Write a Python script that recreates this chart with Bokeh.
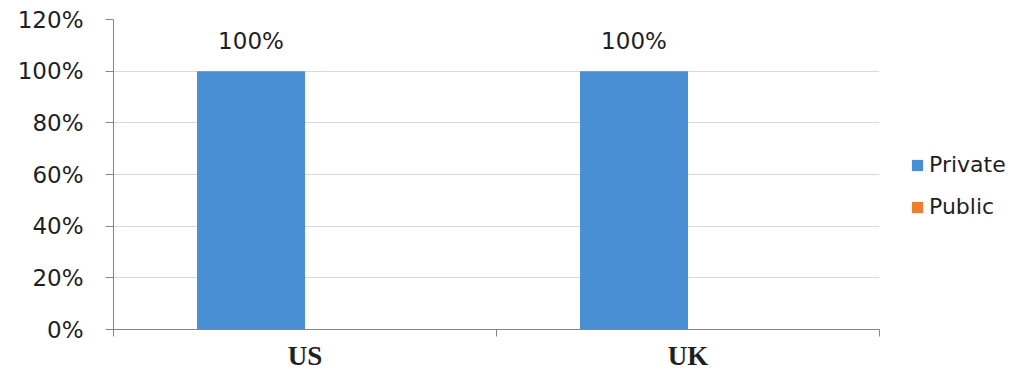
from bokeh.plotting import figure
from bokeh.models import (Range1d, FixedTicker, LinearAxis, Legend, LegendItem,
                          ColumnDataSource, PrintfTickFormatter, Grid)
from bokeh.transform import dodge
from bokeh.core.properties import value
from bokeh.embed import file_html
from bokeh.resources import INLINE
import numpy as np

categories = ["US", "UK"]
series = ["Private", "Public"]
private = [100, 100]
public = [0, 0]
y_ticks = [0, 20, 40, 60, 80, 100, 120]
data_labels = ["100%", "100%"]

colors = {"Private": "#4a8fd3", "Public": "#ed7d31"}
axis_color = "#868686"
text_color = "#1f1f1f"

n = len(categories)
centers = np.arange(n) + 0.5
bar_w = 0.282

p = figure(frame_width=766, frame_height=310, output_backend="svg", toolbar_location=None,
           x_range=Range1d(0, n), y_range=Range1d(0, 120),
           x_axis_type=None, y_axis_type=None,
           min_border_left=113, min_border_right=140, min_border_top=19, min_border_bottom=50)
p.outline_line_color = None
p.background_fill_color = "white"
p.border_fill_color = "white"

yaxis = LinearAxis(ticker=FixedTicker(ticks=y_ticks, minor_ticks=[]),
                   formatter=PrintfTickFormatter(format="%d%%"),
                   axis_line_color=axis_color, major_tick_line_color=axis_color,
                   major_tick_out=8, major_tick_in=0, minor_tick_line_color=None,
                   major_label_text_font="DejaVu Sans", major_label_text_font_size="23px",
                   major_label_text_color=text_color, major_label_standoff=22)
p.add_layout(yaxis, "left")

overrides = {float(c): cat for c, cat in zip(centers, categories)}
xaxis = LinearAxis(ticker=FixedTicker(ticks=[float(c) for c in centers],
                                      minor_ticks=list(range(n + 1))),
                   major_label_overrides=overrides,
                   axis_line_color=axis_color, major_tick_line_color=None,
                   major_tick_out=0, major_tick_in=0,
                   minor_tick_line_color=axis_color, minor_tick_out=7, minor_tick_in=0,
                   major_label_text_font="Liberation Serif", major_label_text_font_style="bold",
                   major_label_text_font_size="27px", major_label_text_color=text_color,
                   major_label_standoff=4)
p.add_layout(xaxis, "below")

p.add_layout(Grid(dimension=1, ticker=FixedTicker(ticks=y_ticks[1:]),
                  grid_line_color="#d2dae5", grid_line_width=1))

src = ColumnDataSource(dict(x=centers, cat=categories, private=private,
                            public=public, lbl=data_labels))
r1 = p.vbar(x=dodge('x', -bar_w / 2), top='private', width=bar_w, source=src,
            fill_color=colors["Private"], line_color=None)
r2 = p.vbar(x=dodge('x', bar_w / 2), top='public', width=bar_w, source=src,
            fill_color=colors["Public"], line_color=None)

p.text(x=dodge('x', -bar_w / 2), y='private', text='lbl', source=src,
       y_offset=-30, text_align="center", text_baseline="alphabetic",
       text_font=value("DejaVu Sans"), text_font_size="23px", text_color=text_color)

legend = Legend(items=[LegendItem(label=series[0], renderers=[r1]),
                       LegendItem(label=series[1], renderers=[r2])],
                location=(31, 110), border_line_color=None, background_fill_alpha=0,
                padding=0, margin=0, spacing=17, glyph_width=14, glyph_height=14,
                label_standoff=5, label_text_font="DejaVu Sans",
                label_text_font_size="22px", label_text_color=text_color)
p.add_layout(legend, "right")

open("out.html", "w").write(file_html(p, INLINE))
